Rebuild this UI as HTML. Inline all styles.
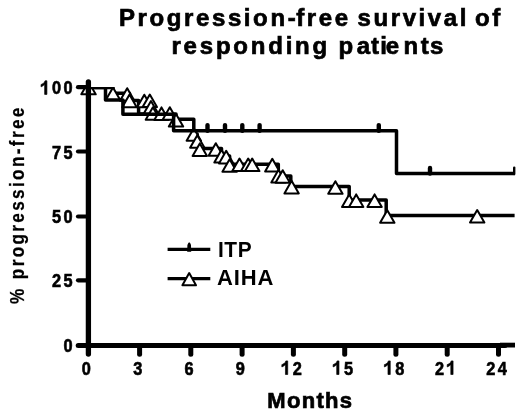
<!DOCTYPE html>
<html><head><meta charset="utf-8"><style>
html,body{margin:0;padding:0;background:#fff;}
body{width:520px;height:417px;overflow:hidden;position:relative;font-family:"Liberation Sans",sans-serif;}
svg{position:absolute;left:0;top:0;will-change:transform;}
.t{font-weight:bold;fill:#000;}
</style></head><body>
<svg width="520" height="417" viewBox="0 0 520 417">
<g class="t" font-size="24" letter-spacing="2.6" stroke="#000" stroke-width="0.7">
<text x="119" y="25.5">Progression-</text>
<text x="296.2" y="25.5" letter-spacing="2.6">free</text>
<text x="357.5" y="25.5">survival</text>
<text x="475" y="25.5">of</text>
<text x="171.5" y="53.5" letter-spacing="2.78">responding</text>
<text x="338.6 356.8 371 380.3 385.8 403.4 420.7 429.9" y="53.5" letter-spacing="0">patients</text>
</g>
<text class="t" transform="translate(24,204.6) rotate(-90) scale(0.88,1)" text-anchor="middle" font-size="19.5" letter-spacing="2.67" stroke="#000" stroke-width="0.25">% progression-free</text>
<text class="t" x="310.3" y="407.5" text-anchor="middle" font-size="22" letter-spacing="1.3" stroke="#000" stroke-width="0.7">Months</text>
<g class="t" font-size="19" fill="#000" stroke="#000" stroke-width="0.65"><path transform="translate(40.36,94.40) scale(0.01634,-0.01900)" vector-effect="non-scaling-stroke" d="M401,0 L401,716 L289,716 C270,660 230,615 170,575 C120,545 80,530 42,521 L42,398 C100,415 170,450 262,516 L262,0 Z"/><text transform="translate(56.45,94.40) scale(0.86,1)" text-anchor="middle">0</text><text transform="translate(68.00,94.40) scale(0.86,1)" text-anchor="middle">0</text><text transform="translate(56.45,158.70) scale(0.86,1)" text-anchor="middle">7</text><text transform="translate(68.00,158.70) scale(0.86,1)" text-anchor="middle">5</text><text transform="translate(56.45,222.70) scale(0.86,1)" text-anchor="middle">5</text><text transform="translate(68.00,222.70) scale(0.86,1)" text-anchor="middle">0</text><text transform="translate(56.45,287.30) scale(0.86,1)" text-anchor="middle">2</text><text transform="translate(68.00,287.30) scale(0.86,1)" text-anchor="middle">5</text><text transform="translate(68.00,351.80) scale(0.86,1)" text-anchor="middle">0</text><text transform="translate(86.40,374.50) scale(0.86,1)" text-anchor="middle">0</text><text transform="translate(137.67,374.50) scale(0.86,1)" text-anchor="middle">3</text><text transform="translate(188.94,374.50) scale(0.86,1)" text-anchor="middle">6</text><text transform="translate(240.21,374.50) scale(0.86,1)" text-anchor="middle">9</text><path transform="translate(281.16,374.50) scale(0.01634,-0.01900)" vector-effect="non-scaling-stroke" d="M401,0 L401,716 L289,716 C270,660 230,615 170,575 C120,545 80,530 42,521 L42,398 C100,415 170,450 262,516 L262,0 Z"/><text transform="translate(297.25,374.50) scale(0.86,1)" text-anchor="middle">2</text><path transform="translate(332.43,374.50) scale(0.01634,-0.01900)" vector-effect="non-scaling-stroke" d="M401,0 L401,716 L289,716 C270,660 230,615 170,575 C120,545 80,530 42,521 L42,398 C100,415 170,450 262,516 L262,0 Z"/><text transform="translate(348.53,374.50) scale(0.86,1)" text-anchor="middle">5</text><path transform="translate(383.70,374.50) scale(0.01634,-0.01900)" vector-effect="non-scaling-stroke" d="M401,0 L401,716 L289,716 C270,660 230,615 170,575 C120,545 80,530 42,521 L42,398 C100,415 170,450 262,516 L262,0 Z"/><text transform="translate(399.80,374.50) scale(0.86,1)" text-anchor="middle">8</text><text transform="translate(439.52,374.50) scale(0.86,1)" text-anchor="middle">2</text><path transform="translate(446.52,374.50) scale(0.01634,-0.01900)" vector-effect="non-scaling-stroke" d="M401,0 L401,716 L289,716 C270,660 230,615 170,575 C120,545 80,530 42,521 L42,398 C100,415 170,450 262,516 L262,0 Z"/><text transform="translate(490.79,374.50) scale(0.86,1)" text-anchor="middle">2</text><text transform="translate(502.33,374.50) scale(0.86,1)" text-anchor="middle">4</text></g>
<text class="t" x="218" y="256.6" font-size="22" letter-spacing="0.6" transform="translate(218,0) scale(0.95,1) translate(-218,0)">ITP</text>
<text class="t" x="217" y="285.4" font-size="22" letter-spacing="0.9" transform="translate(217,0) scale(1.0,1) translate(-217,0)">AIHA</text>
<defs><clipPath id="pc"><rect x="80" y="87" width="440" height="300"/></clipPath></defs>
<path clip-path="url(#pc)" d="M88.5,87.4 H113 V93.3 H129.5 V100.4 H138.6 V114 H176 V119.3 H193.8 V134 H197.2 V141 H199.8 V148.4 H221.5 V156 H229.6 V164.2 H278.3 V176 H290.8 V186.4 H349.2 V199.9 H386.2 V215.5 H514.6" stroke="#000" stroke-width="3.5" fill="none" stroke-linejoin="round"/>
<g clip-path="url(#pc)">
<path d="M88.5,81.7 L95.7,94.3 L81.3,94.3Z" stroke="#000" stroke-width="2" fill="#fff" stroke-linejoin="round"/>
<path d="M113.0,87.5 L120.2,100.1 L105.8,100.1Z" stroke="#000" stroke-width="2" fill="#fff" stroke-linejoin="round"/>
<path d="M127.2,88.2 L134.4,100.8 L120.0,100.8Z" stroke="#000" stroke-width="2" fill="#fff" stroke-linejoin="round"/>
<path d="M129.5,94.6 L136.7,107.2 L122.3,107.2Z" stroke="#000" stroke-width="2" fill="#fff" stroke-linejoin="round"/>
<path d="M144.3,94.7 L151.5,107.3 L137.1,107.3Z" stroke="#000" stroke-width="2" fill="#fff" stroke-linejoin="round"/>
<path d="M149.8,94.5 L157.0,107.1 L142.6,107.1Z" stroke="#000" stroke-width="2" fill="#fff" stroke-linejoin="round"/>
<path d="M151.0,101.0 L158.2,113.6 L143.8,113.6Z" stroke="#000" stroke-width="2" fill="#fff" stroke-linejoin="round"/>
<path d="M152.9,107.2 L160.1,119.8 L145.7,119.8Z" stroke="#000" stroke-width="2" fill="#fff" stroke-linejoin="round"/>
<path d="M161.5,107.4 L168.7,120.0 L154.3,120.0Z" stroke="#000" stroke-width="2" fill="#fff" stroke-linejoin="round"/>
<path d="M169.8,107.2 L177.0,119.8 L162.6,119.8Z" stroke="#000" stroke-width="2" fill="#fff" stroke-linejoin="round"/>
<path d="M176.0,114.0 L183.2,126.6 L168.8,126.6Z" stroke="#000" stroke-width="2" fill="#fff" stroke-linejoin="round"/>
<path d="M193.8,128.2 L201.0,140.8 L186.6,140.8Z" stroke="#000" stroke-width="2" fill="#fff" stroke-linejoin="round"/>
<path d="M197.3,135.2 L204.5,147.8 L190.1,147.8Z" stroke="#000" stroke-width="2" fill="#fff" stroke-linejoin="round"/>
<path d="M199.8,143.4 L207.0,156.0 L192.6,156.0Z" stroke="#000" stroke-width="2" fill="#fff" stroke-linejoin="round"/>
<path d="M215.8,143.2 L223.0,155.8 L208.6,155.8Z" stroke="#000" stroke-width="2" fill="#fff" stroke-linejoin="round"/>
<path d="M221.5,149.8 L228.7,162.4 L214.3,162.4Z" stroke="#000" stroke-width="2" fill="#fff" stroke-linejoin="round"/>
<path d="M226.2,150.8 L233.4,163.4 L219.0,163.4Z" stroke="#000" stroke-width="2" fill="#fff" stroke-linejoin="round"/>
<path d="M229.6,159.2 L236.8,171.8 L222.4,171.8Z" stroke="#000" stroke-width="2" fill="#fff" stroke-linejoin="round"/>
<path d="M239.5,158.5 L246.7,171.1 L232.3,171.1Z" stroke="#000" stroke-width="2" fill="#fff" stroke-linejoin="round"/>
<path d="M248.2,158.5 L255.4,171.1 L241.0,171.1Z" stroke="#000" stroke-width="2" fill="#fff" stroke-linejoin="round"/>
<path d="M252.2,158.5 L259.4,171.1 L245.0,171.1Z" stroke="#000" stroke-width="2" fill="#fff" stroke-linejoin="round"/>
<path d="M272.3,158.8 L279.5,171.4 L265.1,171.4Z" stroke="#000" stroke-width="2" fill="#fff" stroke-linejoin="round"/>
<path d="M278.5,169.8 L285.7,182.4 L271.3,182.4Z" stroke="#000" stroke-width="2" fill="#fff" stroke-linejoin="round"/>
<path d="M282.7,170.2 L289.9,182.8 L275.5,182.8Z" stroke="#000" stroke-width="2" fill="#fff" stroke-linejoin="round"/>
<path d="M291.6,180.8 L298.8,193.4 L284.4,193.4Z" stroke="#000" stroke-width="2" fill="#fff" stroke-linejoin="round"/>
<path d="M335.4,181.2 L342.6,193.8 L328.2,193.8Z" stroke="#000" stroke-width="2" fill="#fff" stroke-linejoin="round"/>
<path d="M349.2,194.4 L356.4,207.0 L342.0,207.0Z" stroke="#000" stroke-width="2" fill="#fff" stroke-linejoin="round"/>
<path d="M356.2,194.4 L363.4,207.0 L349.0,207.0Z" stroke="#000" stroke-width="2" fill="#fff" stroke-linejoin="round"/>
<path d="M374.6,194.4 L381.8,207.0 L367.4,207.0Z" stroke="#000" stroke-width="2" fill="#fff" stroke-linejoin="round"/>
<path d="M387.3,210.2 L394.5,222.8 L380.1,222.8Z" stroke="#000" stroke-width="2" fill="#fff" stroke-linejoin="round"/>
<path d="M477.2,210.0 L484.4,222.6 L470.0,222.6Z" stroke="#000" stroke-width="2" fill="#fff" stroke-linejoin="round"/>
</g>
<path clip-path="url(#pc)" d="M88.5,87.4 H105.5 V99.9 H122.9 V114.3 H173.6 V130.7 H396.5 V173.6 H514.6" stroke="#000" stroke-width="3.5" fill="none" stroke-linejoin="round"/>
<path d="M207.5,125.1 V130.7" stroke="#000" stroke-width="4.4" stroke-linecap="round"/>
<path d="M225,125.1 V130.7" stroke="#000" stroke-width="4.4" stroke-linecap="round"/>
<path d="M242.3,125.1 V130.7" stroke="#000" stroke-width="4.4" stroke-linecap="round"/>
<path d="M259.6,125.1 V130.7" stroke="#000" stroke-width="4.4" stroke-linecap="round"/>
<path d="M378.8,125.1 V130.7" stroke="#000" stroke-width="4.4" stroke-linecap="round"/>
<path d="M430,168.0 V173.6" stroke="#000" stroke-width="4.4" stroke-linecap="round"/>
<path d="M514.2,167.6 V174" stroke="#000" stroke-width="2.4" stroke-linecap="round"/>
<path d="M167.6,249.4 H210.3" stroke="#000" stroke-width="3.3"/>
<path d="M187.2,251.8 L187.4,245 Q189.2,239.6 191,245 L191.2,251.8 Z" fill="#000"/>
<path d="M167.6,278.7 H210.3" stroke="#000" stroke-width="3.3"/>
<path d="M189.2,273.1 L196.0,285.3 L182.4,285.3Z" stroke="#000" stroke-width="2" fill="#fff" stroke-linejoin="round"/>
<path d="M88.4,81.8 V354" stroke="#000" stroke-width="5.3" stroke-linecap="round" fill="none"/>
<path d="M78.2,345.4 H505" stroke="#000" stroke-width="5" stroke-linecap="round" fill="none"/>
<path d="M500,345.1 H515" stroke="#000" stroke-width="4.8" fill="none"/>
<path d="M78,87.2 H88" stroke="#000" stroke-width="4.2" stroke-linecap="round"/>
<path d="M78,151.5 H88" stroke="#000" stroke-width="4.2" stroke-linecap="round"/>
<path d="M78,216.5 H88" stroke="#000" stroke-width="4.2" stroke-linecap="round"/>
<path d="M78,280.3 H88" stroke="#000" stroke-width="4.2" stroke-linecap="round"/>
<path d="M139.6,346 V354.3" stroke="#000" stroke-width="5" stroke-linecap="round"/>
<path d="M190.8,346 V354.3" stroke="#000" stroke-width="5" stroke-linecap="round"/>
<path d="M242.1,346 V354.3" stroke="#000" stroke-width="5" stroke-linecap="round"/>
<path d="M293.4,346 V354.3" stroke="#000" stroke-width="5" stroke-linecap="round"/>
<path d="M344.7,346 V354.3" stroke="#000" stroke-width="5" stroke-linecap="round"/>
<path d="M395.9,346 V354.3" stroke="#000" stroke-width="5" stroke-linecap="round"/>
<path d="M447.2,346 V354.3" stroke="#000" stroke-width="5" stroke-linecap="round"/>
<path d="M498.5,346 V354.3" stroke="#000" stroke-width="5" stroke-linecap="round"/>
</svg>
</body></html>
